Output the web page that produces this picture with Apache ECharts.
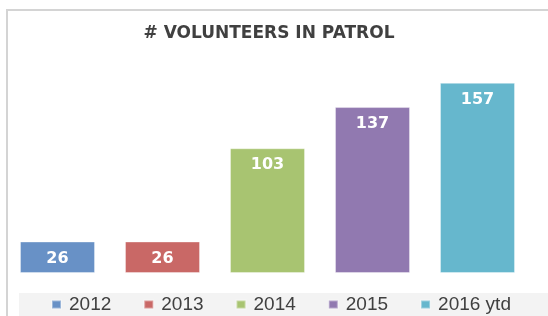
<!DOCTYPE html>
<html>
<head>
<meta charset="utf-8">
<style>
  html, body { margin: 0; padding: 0; background: #fff; }
  #chart { width: 548px; height: 316px; }
</style>
<script src="https://cdn.jsdelivr.net/npm/echarts@6/dist/echarts.min.js"></script>
</head>
<body>
<div id="chart"></div>
<script>
  // data
  var years = ['2012', '2013', '2014', '2015', '2016 ytd'];
  var volunteers = [26, 26, 103, 137, 157];
  var colors = ['#6891c6', '#c96866', '#a8c471', '#9179b0', '#66b7cd'];

  var chart = echarts.init(document.getElementById('chart'));

  // one series per year so the legend shows each year; stacked so bars stay centred
  var series = years.map(function (name, i) {
    return {
      name: name,
      type: 'bar',
      stack: 'all',
      barWidth: 75,
      itemStyle: { color: colors[i], borderColor: 'rgba(255,255,255,0.35)', borderWidth: 1 },
      label: {
        show: true,
        position: 'insideTop',
        distance: 9,
        color: '#fff',
        fontFamily: 'DejaVu Sans',
        fontWeight: 'bold',
        fontSize: 16
      },
      data: years.map(function (y, j) { return j === i ? volunteers[i] : '-'; })
    };
  });

  chart.setOption({
    animation: false,
    color: colors,
    title: {
      text: '# VOLUNTEERS IN PATROL',
      left: 264,
      textAlign: 'center',
      top: 20,
      textStyle: { fontFamily: 'DejaVu Sans', fontWeight: 'bold', fontSize: 17, color: '#404040' }
    },
    graphic: [
      { type: 'rect', z: -1, shape: { x: 19, y: 293, width: 529, height: 23 }, style: { fill: '#f3f3f3' } },
      { type: 'polyline', z: -1, shape: { points: [[7, 316], [7, 10], [548, 10]] }, style: { stroke: '#d4d4d4', lineWidth: 2, fill: null } }
    ],
    legend: {
      data: years,
      left: 51,
      top: 295,
      padding: 0,
      icon: 'rect',
      itemWidth: 9,
      itemHeight: 8,
      itemGap: 32,
      textStyle: { fontFamily: 'Liberation Sans', fontSize: 19, color: '#404040', padding: [0, 0, 0, 3] }
    },
    grid: { left: 5, right: 18, top: 55, bottom: 43 },
    xAxis: {
      type: 'category',
      data: years,
      show: false
    },
    yAxis: {
      type: 'value',
      min: 0,
      max: 180,
      show: false
    },
    series: series
  });
</script>
</body>
</html>
